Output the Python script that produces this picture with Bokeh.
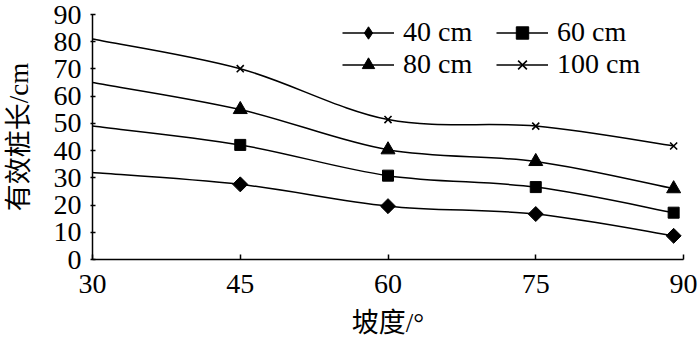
import numpy as np
from bokeh.plotting import figure
from bokeh.models import Legend, LegendItem, FixedTicker, Range1d, ColumnDataSource
from bokeh.embed import file_html
from bokeh.resources import INLINE

# ---- data ----
slope = [30, 45, 60, 75, 89]
len40 = [32.0, 27.6, 19.6, 16.7, 8.7]
len60 = [49.0, 42.1, 30.8, 26.6, 17.2]
len80 = [65.0, 55.1, 40.3, 36.0, 26.0]
len100 = [81.0, 70.1, 51.4, 49.0, 41.7]
series_names = ["40 cm", "60 cm", "80 cm", "100 cm"]
x_ticks = [30, 45, 60, 75, 90]
y_ticks = [0, 10, 20, 30, 40, 50, 60, 70, 80, 90]
x_title = "坡度/°"
y_title = "有效桩长/cm"

SERIF = "'Liberation Serif', 'Times New Roman', serif"
MIXED = "'Liberation Serif', 'Noto Sans CJK SC', serif"

W, H = 700, 340
BL, BR, BT, BB = 88, 17, 14, 80

p = figure(width=W, height=H, output_backend="svg", toolbar_location=None,
           x_range=Range1d(30, 90), y_range=Range1d(0, 90),
           min_border_left=BL, min_border_right=BR, min_border_top=BT, min_border_bottom=BB)
p.outline_line_color = None
p.xgrid.visible = False
p.ygrid.visible = False
p.background_fill_color = "white"
p.border_fill_color = "white"

for ax in (p.xaxis[0], p.yaxis[0]):
    ax.axis_line_color = "black"
    ax.axis_line_width = 1.5
    ax.major_tick_line_color = "black"
    ax.major_tick_line_width = 1.5
    ax.minor_tick_line_color = None
    ax.major_label_text_font = SERIF
    ax.major_label_text_font_size = "28px"
    ax.major_label_text_color = "black"
    ax.axis_label_text_font = MIXED
    ax.axis_label_text_font_size = "27px"
    ax.axis_label_text_font_style = "normal"
    ax.axis_label_text_color = "black"

p.xaxis.ticker = FixedTicker(ticks=x_ticks)
p.yaxis.ticker = FixedTicker(ticks=y_ticks)
p.xaxis.major_tick_in = 5
p.xaxis.major_tick_out = 0
p.yaxis.major_tick_in = 3
p.yaxis.major_tick_out = 2
p.xaxis.major_label_standoff = 15
p.yaxis.major_label_standoff = 9
p.xaxis.axis_label = x_title
p.yaxis.axis_label = y_title
p.xaxis.axis_label_standoff = 12
p.yaxis.axis_label_standoff = 17


def bezier_source(xs, ys):
    pts = np.column_stack([np.asarray(xs, float), np.asarray(ys, float)])
    n = len(pts)
    d = dict(x0=[], y0=[], x1=[], y1=[], cx0=[], cy0=[], cx1=[], cy1=[])
    for i in range(n - 1):
        p0 = pts[i - 1] if i > 0 else pts[i]
        p1 = pts[i]
        p2 = pts[i + 1]
        p3 = pts[i + 2] if i + 2 < n else pts[i + 1]
        c1 = p1 + (p2 - p0) / 6.0
        c2 = p2 - (p3 - p1) / 6.0
        d["x0"].append(p1[0]); d["y0"].append(p1[1])
        d["x1"].append(p2[0]); d["y1"].append(p2[1])
        d["cx0"].append(c1[0]); d["cy0"].append(c1[1])
        d["cx1"].append(c2[0]); d["cy1"].append(c2[1])
    return ColumnDataSource(d)


series = [len40, len60, len80, len100]
# (plot marker, size, angle, legend marker, legend size)
markers = [("square", 10.6, np.pi / 4, "diamond", 17),
           ("square", 11, 0.0, "square", 11),
           ("triangle", 14, 0.0, "triangle", 14),
           ("x", 10, 0.0, "x", 10)]
nan = float("nan")
items = []
for name, vals, (mk, sz, ang, lmk, lsz) in zip(series_names, series, markers):
    lw = 1.6 if mk == "x" else 1
    p.bezier(x0="x0", y0="y0", x1="x1", y1="y1", cx0="cx0", cy0="cy0", cx1="cx1", cy1="cy1",
             source=bezier_source(slope, vals), line_color="black", line_width=1.5)
    p.scatter(x=slope[1:], y=vals[1:], marker=mk, size=sz, angle=ang,
              fill_color="black", line_color="black", line_width=lw)
    leg_line = p.line(x=[nan], y=[nan], line_color="black", line_width=1.5)
    leg_mk = p.scatter(x=[nan], y=[nan], marker=lmk, size=lsz,
                       fill_color="black", line_color="black", line_width=lw)
    items.append(LegendItem(label=name, renderers=[leg_line, leg_mk]))

frame_h = H - BT - BB
ROW = 31
leg_h = 2 * ROW
vy = frame_h - 5 - leg_h
for idx, xoff in ((0, 250), (1, 404)):
    leg = Legend(items=[items[idx], items[idx + 2]], location=(xoff, vy),
                 orientation="vertical", padding=0, margin=0, spacing=0,
                 glyph_width=52, glyph_height=ROW, label_height=ROW, label_standoff=9,
                 label_text_font=SERIF, label_text_font_size="28px", label_text_color="black",
                 border_line_color=None, background_fill_alpha=0)
    p.add_layout(leg, "center")

open("out.html", "w").write(file_html(p, INLINE))
